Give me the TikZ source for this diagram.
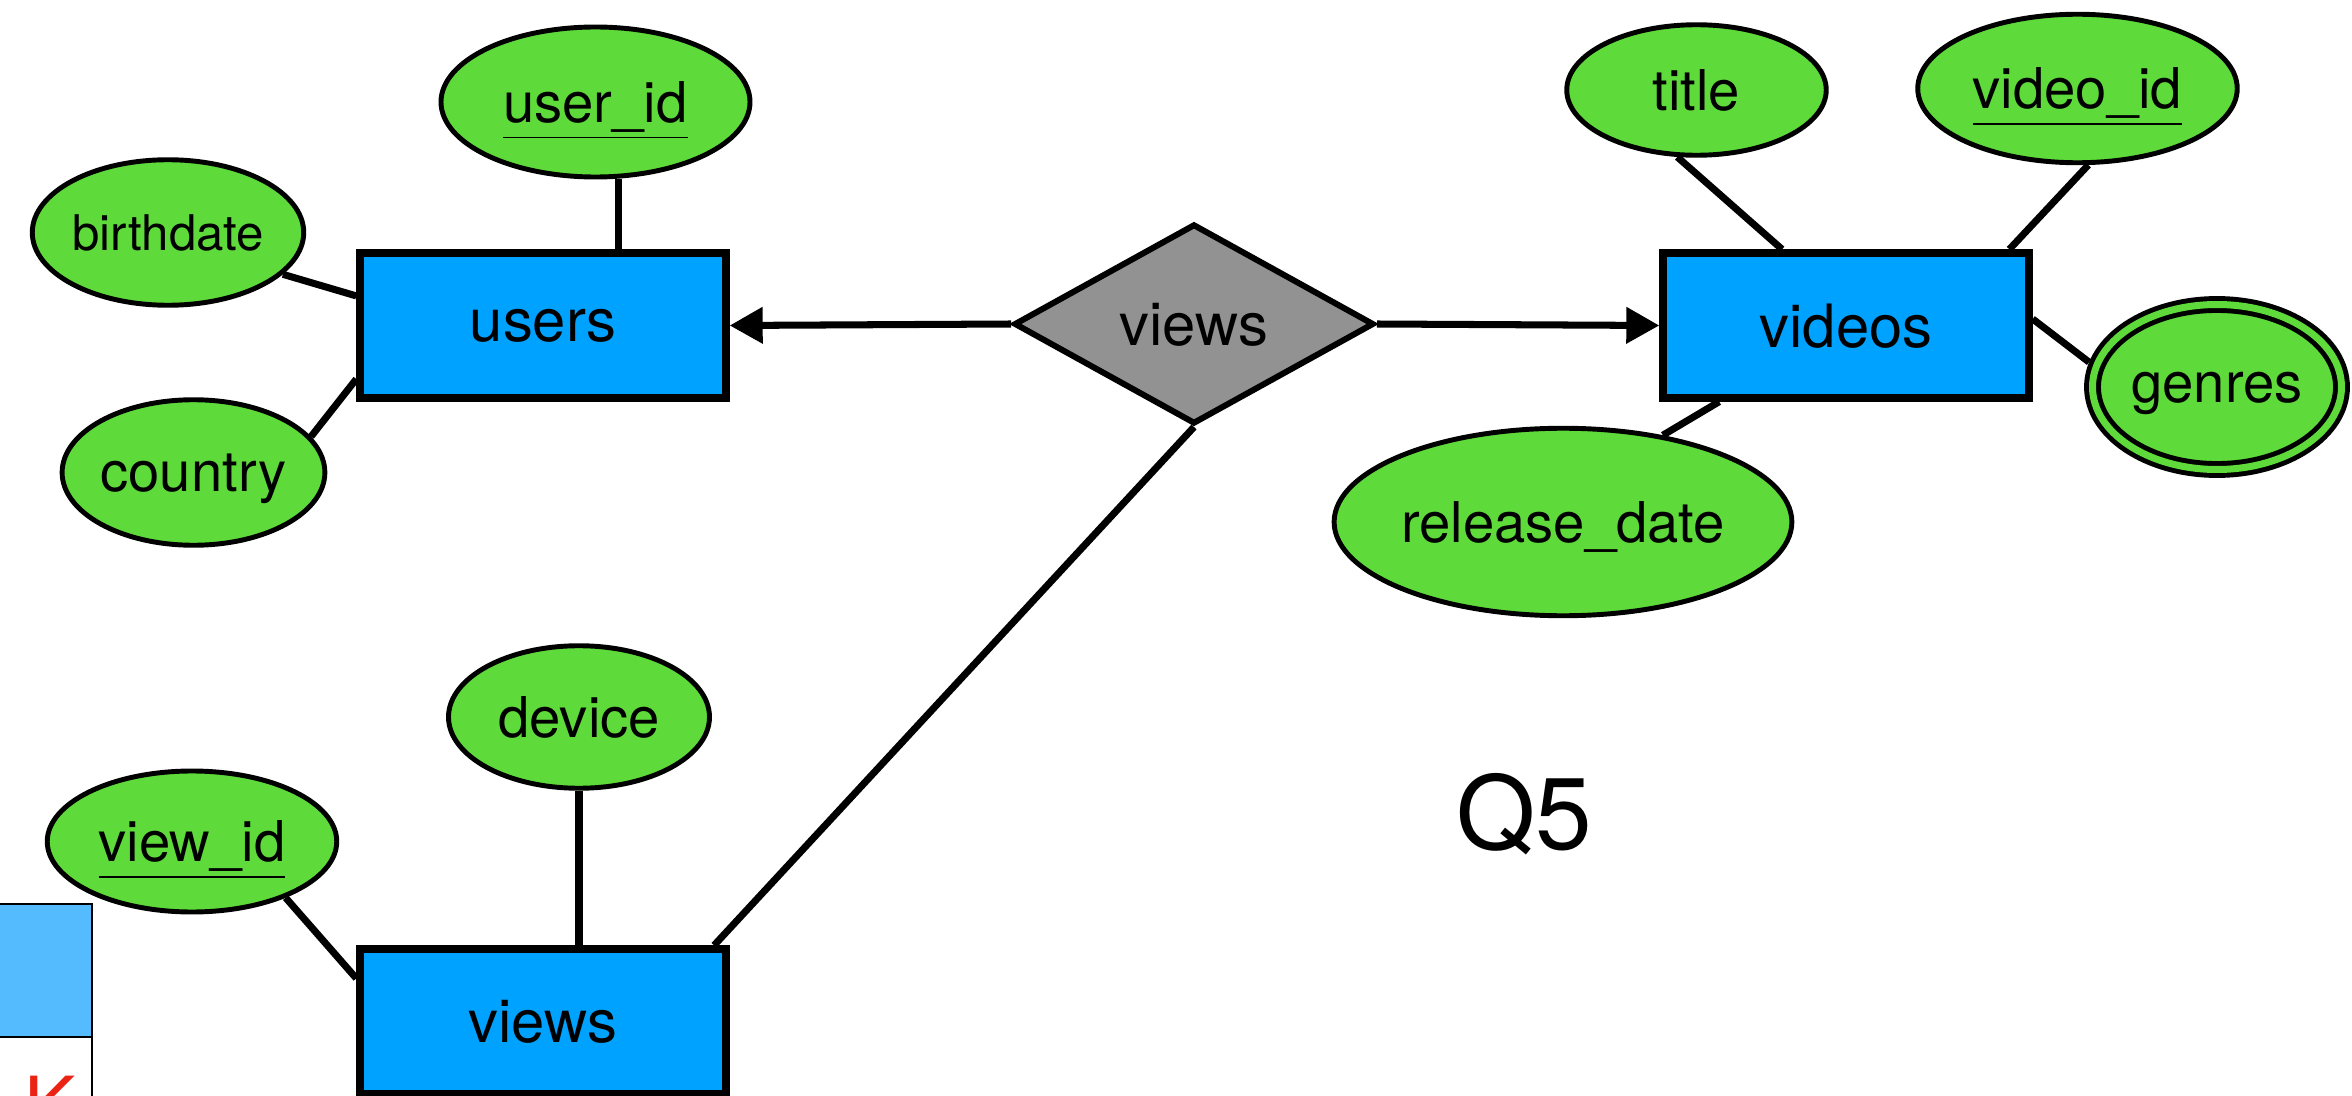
\documentclass[tikz,border=0pt]{standalone}
\usepackage{fontspec}
\setmainfont{TeX Gyre Heros}
\usetikzlibrary{shapes.geometric,arrows.meta}
\definecolor{attrgreen}{RGB}{94,218,58}
\definecolor{entblue}{RGB}{0,162,255}
\definecolor{relgray}{RGB}{146,146,146}
\definecolor{fragblue}{RGB}{85,187,255}
\definecolor{fragred}{RGB}{235,35,20}
\tikzset{
  attr/.style={ellipse,draw,fill=attrgreen,line width=1.4pt,inner sep=0pt,
    text depth=0pt,font=\fontsize{16}{19}\selectfont},
  multiattr/.style={attr,double=attrgreen,double distance=0.7mm,outer sep=0.85mm},
  entity/.style={rectangle,draw,fill=entblue,line width=2.1pt,inner sep=0pt,
    text depth=0pt,minimum width=36.6mm,minimum height=14.5mm,font=\fontsize{17}{20}\selectfont},
  rel/.style={diamond,draw,fill=relgray,line width=1.7pt,inner sep=0pt,
    text depth=0pt,minimum width=36mm,minimum height=20mm,font=\fontsize{17}{20}\selectfont},
  link/.style={line width=2pt},
  card/.style={link,-{Triangle[length=3.3mm,width=3.5mm]}}
}
\begin{document}
\begin{tikzpicture}[x=0.1mm,y=-0.1mm]
\useasboundingbox (0,0) rectangle (2352,1096);
%
% cut-off shapes at the left edge
\draw[line width=0.6pt,fill=fragblue] (-10,904) rectangle (92,1037);
\draw[line width=0.8pt] (92,1037) -- (92,1110);
\node[anchor=north west,inner sep=0pt,text=fragred,font=\fontsize{22}{24}\selectfont] (fragk) at (24,1075) {K};
%
% users
\node[entity] (users) at (543,325.5) {users};
\node[attr,minimum width=30.9mm,minimum height=15mm] (userid) at (595.5,102) {\underline{user\_id}};
\node[attr,minimum width=26.25mm,minimum height=14.55mm,font=\fontsize{14}{17}\selectfont] (birthdate) at (168,232.5) {birthdate};
\node[attr,minimum width=26.1mm,minimum height=14.55mm] (country) at (193.5,472.5) {country};
\draw[link] (userid.-73) -- (userid.-73 |- users.north);
\draw[link] (birthdate.-20) -- (users.171);
\draw[link] (country.17) -- (users.196);
%
% relationship
\node[rel] (viewsrel) at (1194,324) {views};
\draw[card] (viewsrel.west) -- (users.east);
%
% videos
\node[entity] (videos) at (1846,325.5) {videos};
\node[attr,minimum width=25.95mm,minimum height=13.05mm] (title) at (1696.5,90) {title};
\node[attr,minimum width=31.95mm,minimum height=14.85mm] (videoid) at (2077.5,88.5) {\underline{video\_id}};
\node[multiattr,minimum width=24.9mm,minimum height=16.5mm] (genres) at (2217,387) {genres};
\node[attr,minimum width=45.15mm,minimum height=18.75mm] (releasedate) at (1563,522) {release\_date};
\draw[card] (viewsrel.east) -- (videos.west);
\draw[link] (title.-106) -- (videos.130);
\draw[link] (videoid.-82) -- (videos.25);
\draw[link] (videos.2) -- (genres.169);
\draw[link] (videos.211) -- (releasedate.41);
%
% views
\node[entity] (viewsent) at (543,1021.5) {views};
\node[attr,minimum width=26.1mm,minimum height=14.25mm] (device) at (579,717) {device};
\node[attr,minimum width=28.95mm,minimum height=14.1mm] (viewid) at (192,841.5) {\underline{view\_id}};
\draw[link] (device.south) -- (device.south |- viewsent.north);
\draw[link] (viewid.-31) -- (viewsent.167);
\draw[link] (viewsrel.south) -- (viewsent.24);
%
\node[anchor=base,font=\fontsize{29}{34}\selectfont] (qlabel) at (1524,849) {Q5};
\end{tikzpicture}
\end{document}
